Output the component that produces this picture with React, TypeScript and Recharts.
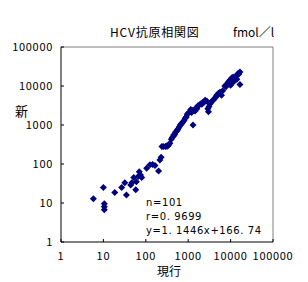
import { Fragment } from 'react'
import { ScatterChart, Scatter, XAxis, YAxis, ReferenceLine } from 'recharts'

// log-scale ticks, both axes
const ticks = [1, 10, 100, 1000, 10000, 100000]

// 現行 (x) vs 新 (y), fmol/l
const current = [
  5.8, 10, 10.5, 10.5, 10.5, 18.5, 27, 32, 35, 44, 47, 52, 58, 60, 66, 70, 75, 80,
  105, 125, 145, 165, 200, 215, 230,
  240, 260, 290, 310, 320, 340, 370, 400, 420, 450, 460, 480, 500, 540, 560, 580,
  620, 650, 680, 700, 750, 800, 850, 900, 950, 1000, 1100, 1150, 1200, 1300, 1300,
  1450, 1500, 1600, 1700, 1850, 2000, 2100, 2200, 2400, 2500, 2600, 2800, 2900,
  3000, 3100, 3300, 3400, 3600, 3900, 4200, 4500, 4700, 5000, 5200, 5600, 6100,
  6500, 7300, 7800, 8000, 8700, 9000, 9600, 10000, 10600, 11000, 11500, 12000,
  12500, 13900, 14000, 15000, 15500, 16600, 16600,
]
const newer = [
  12.9, 25, 9.5, 8, 6.7, 18.5, 25, 33, 16, 29, 33, 45, 22, 35, 48, 63, 52, 45,
  78, 95, 97, 92, 66, 127, 148,
  280, 280, 280, 290, 285, 300, 340, 430, 480, 520, 560, 570, 650, 700, 760, 800,
  900, 1000, 1050, 1100, 1200, 1300, 1500, 1600, 1900, 2000, 2200, 2500, 2100, 2400, 1000,
  2300, 2700, 2600, 3100, 3300, 3500, 3400, 3800, 3900, 4300, 4200, 4000, 2600,
  2200, 3000, 3500, 3800, 4000, 4400, 4800, 5200, 5800, 6000, 6500, 6900, 5800,
  7500, 10000, 9500, 11000, 12000, 13000, 14000, 10500, 16000, 12500, 17000, 13000,
  15500, 19000, 15000, 21000, 20000, 23000, 11000,
]

const stats = ['n=101', 'r=0. 9699', 'y=1. 1446x+166. 74']

const data = current.map((x, i) => ({ x, y: newer[i] }))

const font = '"Noto Sans CJK JP", "Noto Sans", sans-serif'

const YTick = (props: any) => {
  const { x, y, payload } = props
  return (
    <g>
      <line x1={x} x2={x + 3} y1={y} y2={y} stroke="#000" />
      <text x={x - 8} y={y} dy={4} textAnchor="end" fontSize={11} fill="#000"
        fontFamily={font} letterSpacing={0.7}>
        {payload.value}
      </text>
    </g>
  )
}

const XTick = (props: any) => {
  const { x, y, payload } = props
  return (
    <g>
      <line x1={x} x2={x} y1={y} y2={y - 3} stroke="#000" />
      <text x={x} y={y + 18} textAnchor="middle" fontSize={11} fill="#000"
        fontFamily={font} letterSpacing={0.7}>
        {payload.value}
      </text>
    </g>
  )
}

const Diamond = (p: any) => {
  const { cx, cy } = p
  const r = 3.5
  return (
    <polygon
      points={`${cx},${cy - r} ${cx + r},${cy} ${cx},${cy + r} ${cx - r},${cy}`}
      fill="#000080"
    />
  )
}

const txt = (left: number, top: number, s: any, size = 11, extra: any = {}) => (
  <div
    style={{
      position: 'absolute', left, top, fontSize: size, fontFamily: font,
      lineHeight: 1, whiteSpace: 'nowrap', color: '#000', ...extra,
    }}
  >
    {s}
  </div>
)

export default function App() {
  return (
    <div style={{ position: 'fixed', left: 0, top: 0, width: 308, height: 282, background: '#fff' }}>
      <ScatterChart width={308} height={282} margin={{ top: 47, right: 35, bottom: 0, left: 0 }}>
        <XAxis
          type="number" dataKey="x" scale="log" domain={[1, 100000]} ticks={ticks}
          allowDataOverflow height={40} tickSize={0} tickMargin={0} tickLine={false}
          axisLine={{ stroke: '#000' }} tick={<XTick />} interval={0}
        />
        <YAxis
          type="number" dataKey="y" scale="log" domain={[1, 100000]} ticks={ticks}
          allowDataOverflow width={61} tickSize={0} tickMargin={0} tickLine={false}
          axisLine={{ stroke: '#000' }} tick={<YTick />} interval={0}
        />
        <ReferenceLine y={100000} stroke="#808080" />
        <ReferenceLine x={100000} stroke="#808080" />
        <Scatter data={data} shape={<Diamond />} isAnimationActive={false} />
      </ScatterChart>
      {txt(110, 26, 'HCV抗原相関図', 12, { letterSpacing: 0.8 })}
      {txt(233, 26, 'fmol／l', 12)}
      {txt(15, 104, '新', 13)}
      {txt(157, 265, '現行', 12)}
      {stats.map((s, i) => (
        <Fragment key={i}>
          {txt(146, 198 + i * 14, s, 10,
            { letterSpacing: 0.6, fontFamily: '"DejaVu Sans", sans-serif' })}
        </Fragment>
      ))}
    </div>
  )
}
